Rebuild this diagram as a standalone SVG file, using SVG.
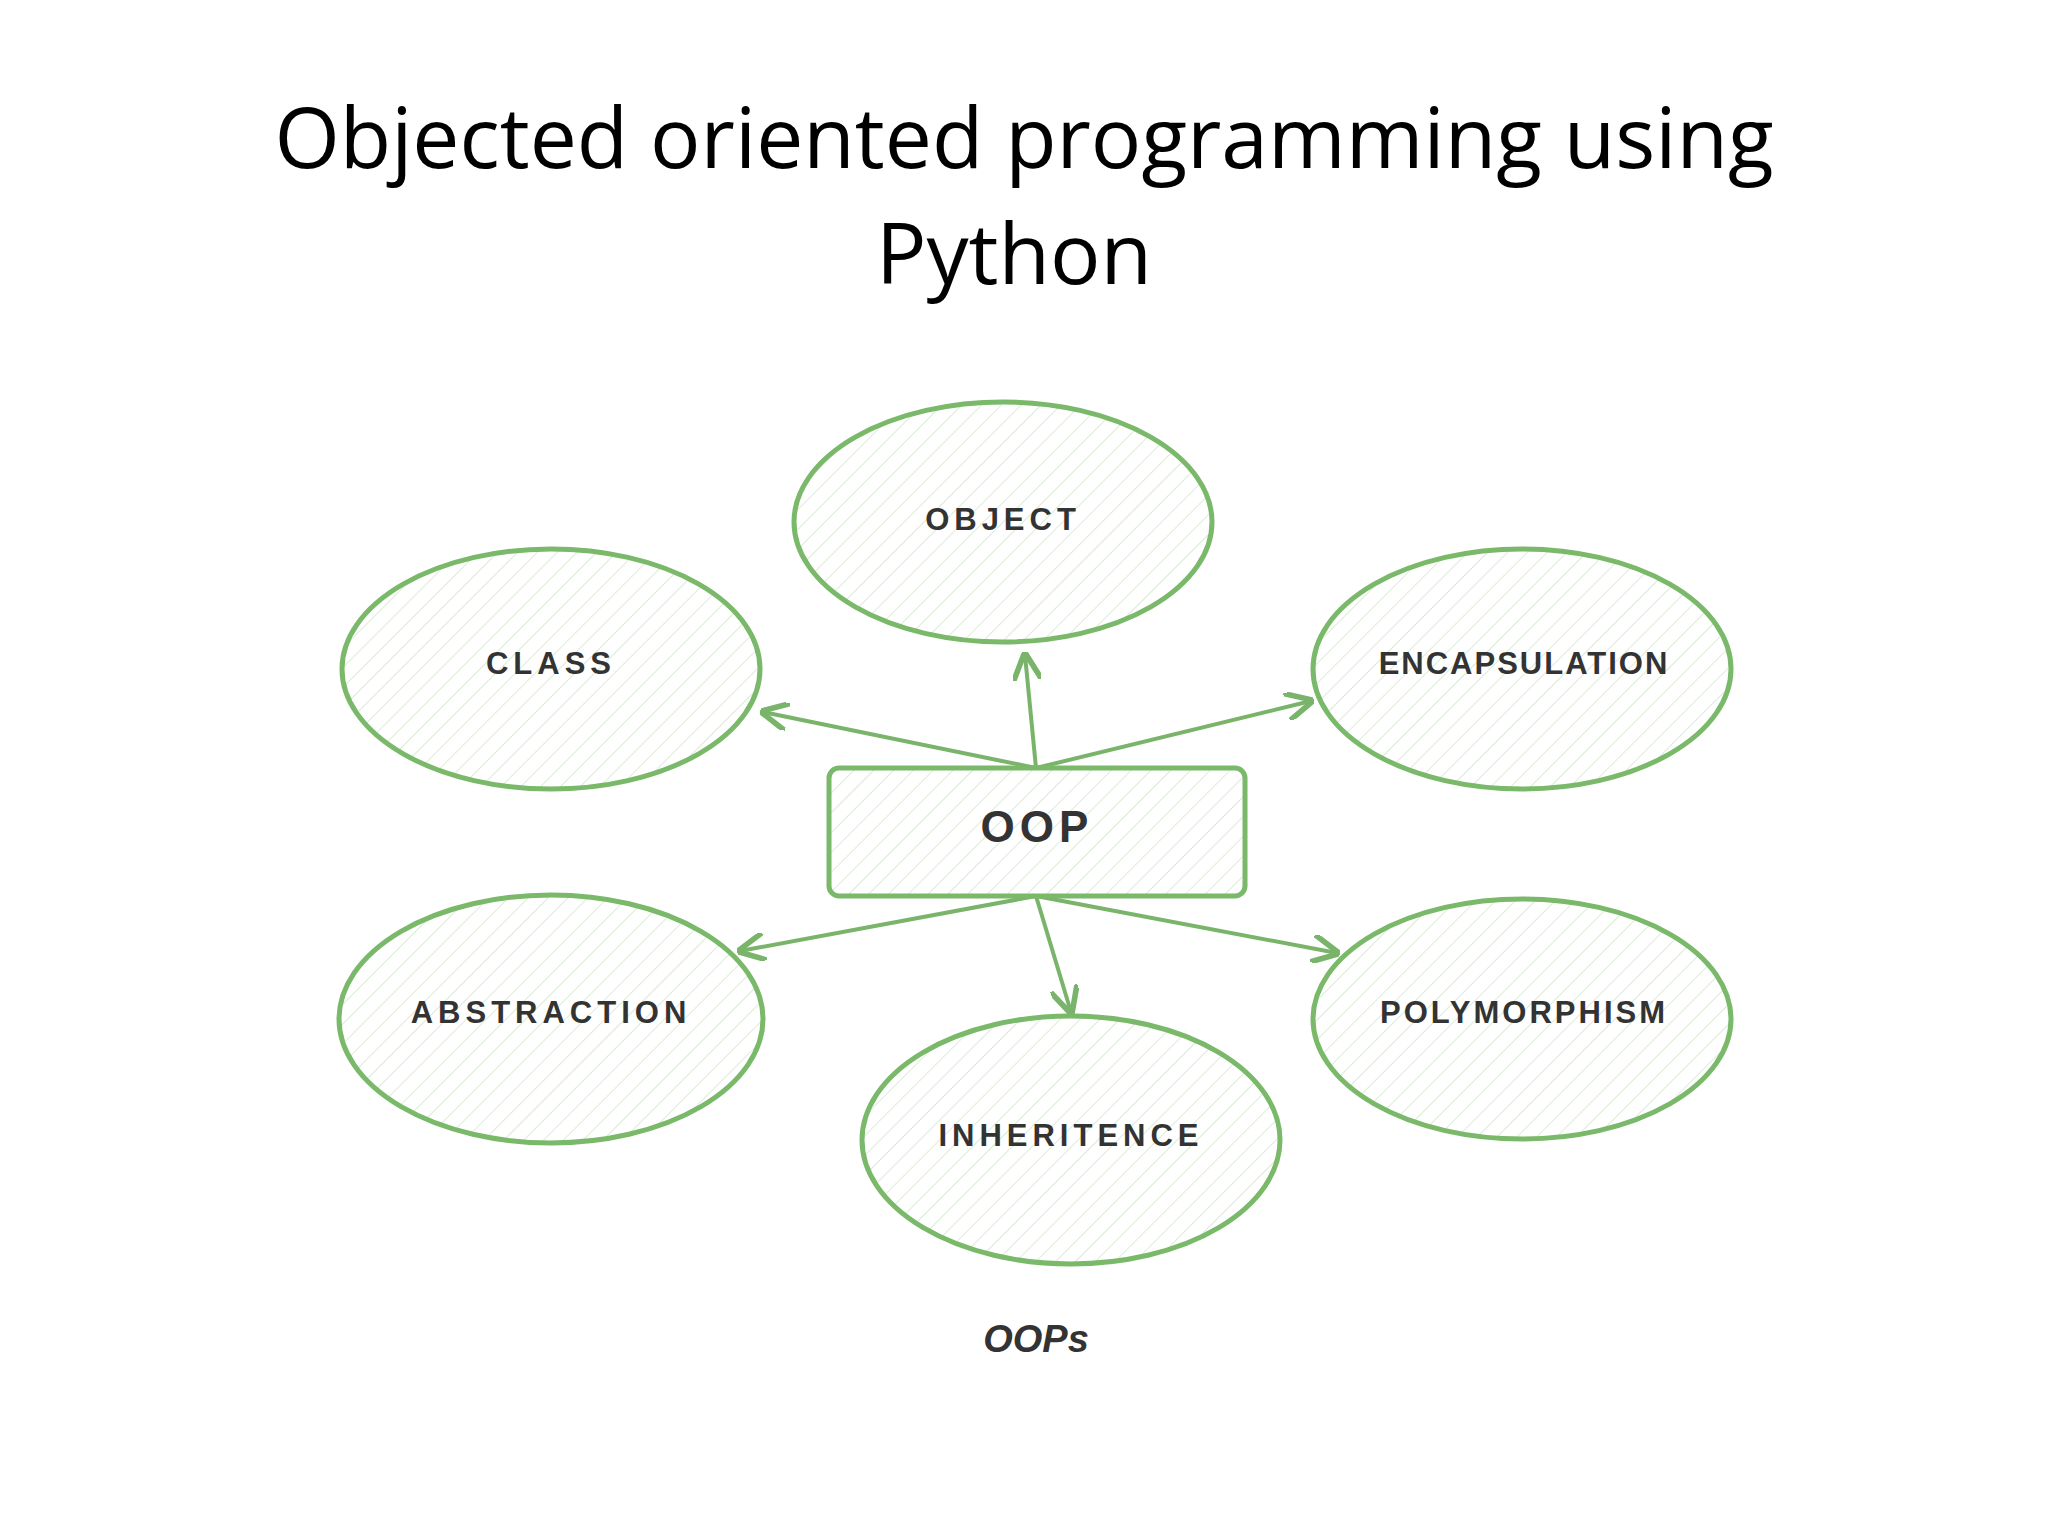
<svg xmlns="http://www.w3.org/2000/svg" width="2048" height="1536" viewBox="0 0 2048 1536">
<defs>
<pattern id="hatch" width="14" height="14" patternUnits="userSpaceOnUse" patternTransform="rotate(45)">
<line x1="0" y1="0" x2="0" y2="14" stroke="#dcebd6" stroke-width="2"/>
</pattern>
<marker id="arr" viewBox="0 0 10 10" refX="9" refY="5" markerWidth="7" markerHeight="7" orient="auto">
<path d="M0,0 L10,5 L0,10" fill="none" stroke="#79b46a" stroke-width="2"/>
</marker>
<style>
.n{fill:url(#hatch);stroke:#7ab86a;stroke-width:5}
.l{font-family:"Liberation Sans",Arial,sans-serif;font-weight:bold;font-size:31px;letter-spacing:5px;fill:#333;text-anchor:middle;dominant-baseline:middle}
.c{stroke:#79b46a;stroke-width:4;fill:none;marker-end:url(#arr)}
.t{font-family:"Open Sans","Noto Sans","Liberation Sans",sans-serif;font-size:84px;fill:#000;text-anchor:middle}
</style>
</defs>
<rect width="2048" height="1536" fill="#fff"/>
<text class="t" x="1024" y="168">Objected oriented programming using</text>
<text class="t" x="1014" y="284">Python</text>
<g id="connectors">
<line class="c" x1="1036" y1="768" x2="1025" y2="655"/>
<line class="c" x1="1036" y1="768" x2="763" y2="712"/>
<line class="c" x1="1036" y1="768" x2="1311" y2="701"/>
<line class="c" x1="1036" y1="896" x2="740" y2="951"/>
<line class="c" x1="1036" y1="896" x2="1071" y2="1012"/>
<line class="c" x1="1036" y1="896" x2="1337" y2="953"/>
</g>
<g id="oop"><rect class="n" x="829" y="768" width="416" height="128" rx="10"/><text class="l" x="1037" y="830" style="font-size:44px">OOP</text></g>
<g id="object"><ellipse class="n" cx="1003" cy="522" rx="209" ry="120"/><text class="l" x="1003" y="522">OBJECT</text></g>
<g id="class"><ellipse class="n" cx="551" cy="669" rx="209" ry="120"/><text class="l" x="551" y="666">CLASS</text></g>
<g id="encapsulation"><ellipse class="n" cx="1522" cy="669" rx="209" ry="120"/><text class="l" x="1524" y="666" style="letter-spacing:2px">ENCAPSULATION</text></g>
<g id="abstraction"><ellipse class="n" cx="551" cy="1019" rx="212" ry="124"/><text class="l" x="551" y="1015">ABSTRACTION</text></g>
<g id="polymorphism"><ellipse class="n" cx="1522" cy="1019" rx="209" ry="120"/><text class="l" x="1524" y="1015" style="letter-spacing:3px">POLYMORPHISM</text></g>
<g id="inheritence"><ellipse class="n" cx="1071" cy="1140" rx="209" ry="124"/><text class="l" x="1071" y="1138">INHERITENCE</text></g>
<text x="1036" y="1352" style="font-family:'Liberation Sans',Arial,sans-serif;font-weight:bold;font-style:italic;font-size:38px;fill:#333;text-anchor:middle">OOPs</text>
</svg>
